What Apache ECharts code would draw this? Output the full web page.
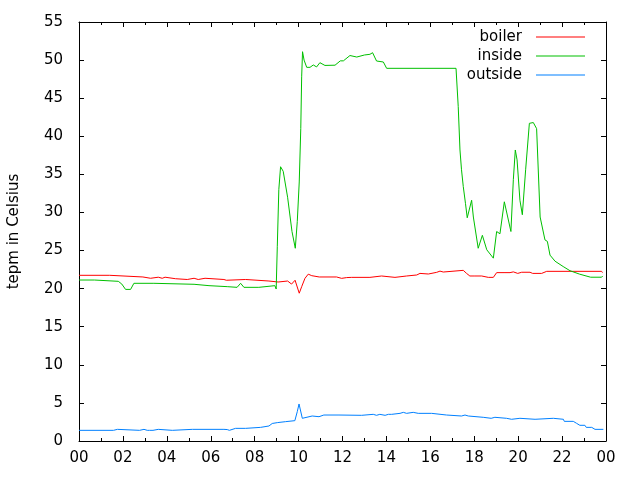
<!DOCTYPE html>
<html>
<head>
<meta charset="utf-8">
<script src="https://cdn.jsdelivr.net/npm/echarts@6/dist/echarts.min.js"></script>
<style>html,body{margin:0;padding:0;background:#fff}#c{width:640px;height:480px}</style>
</head>
<body>
<div id="c"></div>
<script>
var seriesNames = ['boiler', 'inside', 'outside'];
var yAxisTitle = 'tepm in Celsius';

var boilerHours = [0,1.4,1.42,2.91,2.93,3.26,3.28,3.61,3.63,3.79,3.81,3.92,3.94,4.4,4.42,4.93,4.95,5.24,5.26,5.43,5.45,5.74,5.76,6.6,6.65,6.71,6.75,7.59,7.61,8.65,8.67,9.07,9.1,9.5,9.68,9.84,10.03,10.14,10.29,10.44,10.52,10.6,10.94,11.73,11.75,11.96,12.0,12.19,12.27,12.42,13.25,13.27,13.78,13.8,14.39,14.47,14.92,14.94,15.38,15.53,15.6,15.91,15.98,16.29,16.31,16.44,16.46,16.59,16.61,17.5,17.65,17.8,18.03,18.11,18.34,18.64,18.87,19.02,19.4,19.47,19.63,19.78,19.98,20.16,20.54,20.66,21.07,21.3,23.8,23.84];
var boilerTemps = [21.75,21.75,21.53,21.53,21.36,21.36,21.5,21.5,21.36,21.36,21.5,21.5,21.3,21.3,21.2,21.2,21.36,21.36,21.2,21.2,21.36,21.36,21.2,21.2,21.1,21.1,21.2,21.2,21.0,21.0,20.87,20.87,21.0,21.0,20.6,21.1,19.4,20.25,21.35,21.9,21.75,21.7,21.53,21.53,21.35,21.35,21.53,21.45,21.6,21.48,21.48,21.66,21.66,21.48,21.48,21.66,21.66,21.79,21.79,22.0,21.92,21.92,22.14,22.14,22.3,22.3,22.18,22.18,22.4,22.4,22.0,21.66,21.66,21.9,21.66,21.48,21.48,22.1,22.1,22.27,22.1,22.2,22.0,22.15,22.15,22.0,22.0,22.27,22.27,22.1];

var insideHours = [0,0.7,0.78,1.79,1.95,2.12,2.35,2.5,3.41,3.45,5.24,5.3,5.92,6.0,6.75,6.8,7.2,7.36,7.51,8.19,8.25,8.92,8.98,9.03,9.1,9.18,9.3,9.5,9.7,9.85,9.94,10.03,10.1,10.14,10.18,10.25,10.37,10.52,10.67,10.82,10.97,11.05,11.2,11.66,11.9,12.04,12.34,12.65,13.0,13.25,13.37,13.55,13.86,14.01,17.17,17.27,17.35,17.42,17.5,17.6,17.68,17.88,17.96,18.18,18.37,18.57,18.87,19.02,19.17,19.37,19.67,19.78,19.87,19.95,20.08,20.19,20.34,20.51,20.69,20.84,21.0,21.22,21.33,21.45,21.68,22.05,22.36,22.8,23.3,23.8,23.85];
var insideTemps = [21.13,21.13,20.96,20.96,20.6,19.9,19.9,20.7,20.7,20.57,20.57,20.39,20.39,20.26,20.26,20.17,20.17,20.7,20.17,20.17,20.39,20.39,19.95,25.5,33.0,36.0,35.4,32.0,27.5,25.3,28.8,34.0,41.0,47.8,51.1,50.0,49.05,49.05,49.36,49.1,49.66,49.66,49.3,49.33,49.9,49.9,50.6,50.4,50.67,50.76,50.97,49.88,49.75,48.92,48.92,43.9,38.2,35.6,33.4,31.2,29.3,31.6,29.4,25.3,27.0,25.1,24.0,27.5,27.2,31.4,27.5,34.3,38.2,36.9,31.6,29.7,35.6,41.7,41.8,41.0,29.4,26.4,26.2,24.4,23.6,22.9,22.35,21.9,21.5,21.5,21.66];

var outsideHours = [0,1.57,1.6,1.75,1.77,2.76,2.8,2.96,2.98,3.11,3.19,3.21,3.37,3.39,3.61,3.63,4.25,4.27,5.16,5.2,5.24,6.6,6.65,6.75,6.85,6.9,7.13,7.59,7.61,8.27,8.3,8.65,8.68,8.8,9.03,9.41,9.83,9.94,10.02,10.17,10.62,10.93,11.15,11.84,11.89,12.87,12.9,12.95,13.4,13.42,13.55,13.57,13.7,13.72,13.94,14.01,14.09,14.24,14.26,14.62,14.64,14.77,14.79,14.92,14.94,15.22,15.3,15.45,16.06,16.13,16.74,16.76,17.42,17.44,17.58,17.6,17.73,17.75,18.41,18.43,18.77,18.79,18.94,18.96,19.47,19.49,19.7,19.72,20.08,20.1,20.77,20.79,21.6,21.62,22.06,22.1,22.51,22.55,22.66,22.7,22.81,23.04,23.1,23.35,23.4,23.5,23.88];
var outsideTemps = [1.4,1.4,1.53,1.53,1.4,1.4,1.53,1.53,1.4,1.4,1.53,1.4,1.4,1.53,1.53,1.4,1.4,1.53,1.53,1.4,1.53,1.53,1.66,1.5,1.4,1.53,1.66,1.66,1.79,1.79,1.97,1.97,2.19,2.3,2.41,2.54,2.67,3.85,4.86,2.98,3.28,3.19,3.41,3.41,3.37,3.37,3.59,3.5,3.5,3.37,3.37,3.5,3.5,3.37,3.37,3.63,3.5,3.5,3.63,3.63,3.76,3.76,3.63,3.63,3.76,3.76,3.89,3.63,3.63,3.41,3.41,3.28,3.28,3.41,3.41,3.28,3.28,3.11,3.11,2.98,2.98,3.11,3.11,2.98,2.98,2.85,2.85,2.98,2.98,2.85,2.85,2.98,2.98,2.85,2.85,2.58,2.58,2.32,2.32,2.19,2.06,2.06,1.79,1.79,1.66,1.53,1.53];

var xMin = 0, xMax = 24, xStep = 2;
var yMin = 0, yMax = 55, yStep = 5;
var colors = ['#ff0000', '#00c000', '#0080ff'];

function zip(a, b) { return a.map(function (v, i) { return [v, b[i]]; }); }
var seriesData = [zip(boilerHours, boilerTemps), zip(insideHours, insideTemps), zip(outsideHours, outsideTemps)];

var FONT = 'DejaVu Sans';
var black = '#000';

function hourLabel(v) { var h = Math.round(v) % 24; return (h < 10 ? '0' : '') + h; }

var tickCommon = { show: true, inside: true, length: 5, lineStyle: { color: black, width: 1 } };
var minorCommon = { show: true, splitNumber: 2, length: 3, lineStyle: { color: black, width: 1 } };
var lineCommon = { show: true, onZero: false, lineStyle: { color: black, width: 1 } };

var chart = echarts.init(document.getElementById('c'), null, { renderer: 'canvas' });

var legends = seriesNames.map(function (name, i) {
  return {
    data: [{ name: name, icon: 'rect' }],
    orient: 'vertical',
    right: 55,
    top: 29.5 + i * 19,
    padding: 0,
    align: 'right',
    itemWidth: 49,
    itemHeight: 1,
    selectedMode: false,
    textStyle: { fontFamily: FONT, fontSize: 15, color: black, padding: [0, 9, 0, 0] }
  };
});

chart.setOption({
  animation: false,
  backgroundColor: '#fff',
  color: colors,
  grid: { left: 79, right: 34, top: 22, bottom: 39, containLabel: false, outerBoundsMode: 'none' },
  legend: legends,
  xAxis: [
    {
      type: 'value', min: xMin, max: xMax, interval: xStep, position: 'bottom',
      axisLine: lineCommon, axisTick: tickCommon, minorTick: minorCommon,
      splitLine: { show: false }, minorSplitLine: { show: false },
      axisLabel: { formatter: hourLabel, fontFamily: FONT, fontSize: 15, color: black, margin: 10 }
    },
    {
      type: 'value', min: xMin, max: xMax, interval: xStep, position: 'top',
      axisLine: lineCommon, axisTick: tickCommon, minorTick: minorCommon,
      splitLine: { show: false }, minorSplitLine: { show: false }, axisLabel: { show: false }
    }
  ],
  yAxis: [
    {
      type: 'value', min: yMin, max: yMax, interval: yStep, position: 'left',
      name: yAxisTitle, nameLocation: 'middle', nameGap: 57,
      nameTextStyle: { fontFamily: FONT, fontSize: 15, color: black },
      axisLine: lineCommon, axisTick: tickCommon,
      splitLine: { show: false },
      axisLabel: { fontFamily: FONT, fontSize: 15, color: black, margin: 16 }
    },
    {
      type: 'value', min: yMin, max: yMax, interval: yStep, position: 'right',
      axisLine: lineCommon, axisTick: tickCommon,
      splitLine: { show: false }, axisLabel: { show: false }
    }
  ],
  series: seriesNames.map(function (name, i) {
    return {
      name: name, type: 'line', data: seriesData[i],
      xAxisIndex: 0, yAxisIndex: 0,
      showSymbol: false, symbol: 'none',
      lineStyle: { width: 1, color: colors[i] },
      itemStyle: { color: colors[i] }
    };
  })
});
</script>
</body>
</html>
